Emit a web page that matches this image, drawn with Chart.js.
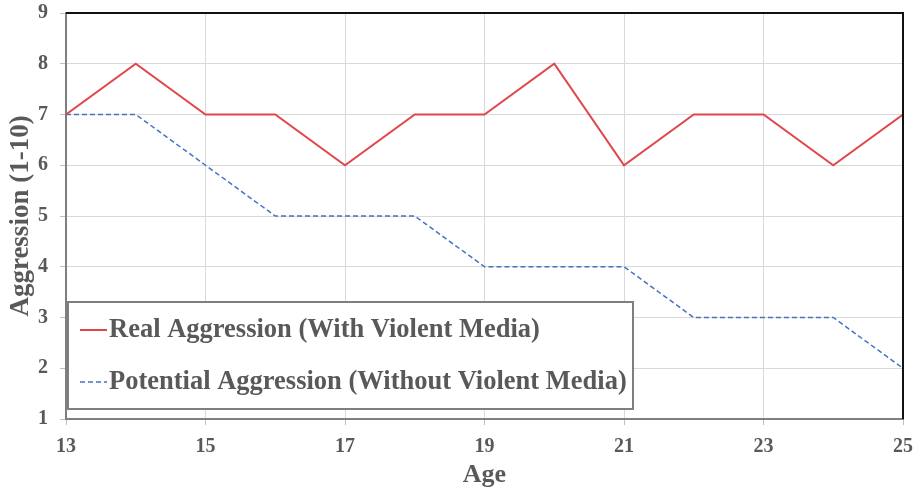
<!DOCTYPE html>
<html>
<head>
<meta charset="utf-8">
<script src="https://cdn.jsdelivr.net/npm/chart.js@4/dist/chart.umd.min.js"></script>
<style>
  html, body { margin: 0; padding: 0; background: #fff; }
  #wrap { width: 919px; height: 491px; position: relative; }
</style>
</head>
<body>
<div id="wrap"><canvas id="c" width="919" height="491"></canvas></div>
<script>
// Ages on the horizontal axis
const ages = [13, 14, 15, 16, 17, 18, 19, 20, 21, 22, 23, 24, 25];
// Aggression scores (1-10)
const realAggression = [7, 8, 7, 7, 6, 7, 7, 8, 6, 7, 7, 6, 7];
const potentialAggression = [7, 7, 6, 5, 5, 5, 4, 4, 4, 3, 3, 3, 2];
const seriesNames = ['Real Aggression (With Violent Media)', 'Potential Aggression (Without Violent Media)'];

const FONT = '"Liberation Serif", "Times New Roman", serif';
const TEXT = '#595959';
const RED = '#e0474c';
const BLUE = '#4472c4';

const toPoints = (vals) => ages.map((a, i) => ({ x: a, y: vals[i] }));

// Frame: gray left/bottom handled by axis borders, black top/right drawn here
const framePlugin = {
  id: 'frame',
  afterDatasetsDraw(chart) {
    const { ctx, chartArea: a } = chart;
    ctx.save();
    ctx.strokeStyle = '#111';
    ctx.lineWidth = 2;
    ctx.beginPath();
    ctx.moveTo(a.left, a.top);
    ctx.lineTo(a.right, a.top);
    ctx.lineTo(a.right, a.bottom);
    ctx.stroke();
    ctx.restore();
  }
};

// Boxed legend sitting inside the lower-left of the plot
const boxLegend = {
  id: 'boxLegend',
  afterDraw(chart) {
    const { ctx, chartArea: a } = chart;
    const x = a.left + 2, y = a.bottom - 117, w = 565, h = 107;
    ctx.save();
    ctx.fillStyle = '#fff';
    ctx.fillRect(x, y, w, h);
    ctx.strokeStyle = '#7f7f7f';
    ctx.lineWidth = 2;
    ctx.strokeRect(x, y, w, h);
    ctx.font = 'bold 26.5px ' + FONT;
    ctx.textBaseline = 'middle';
    ctx.fillStyle = TEXT;
    chart.data.datasets.forEach((ds, i) => {
      const cy = y + 28 + i * 52;
      ctx.strokeStyle = ds.borderColor;
      ctx.lineWidth = ds.borderWidth;
      ctx.setLineDash(ds.borderDash || []);
      ctx.beginPath();
      ctx.moveTo(x + 12, cy);
      ctx.lineTo(x + 39, cy);
      ctx.stroke();
      ctx.setLineDash([]);
      ctx.fillText(ds.label, x + 41, cy);
    });
    ctx.restore();
  }
};

new Chart(document.getElementById('c'), {
  type: 'line',
  data: {
    datasets: [
      {
        label: seriesNames[0],
        data: toPoints(realAggression),
        borderColor: RED,
        borderWidth: 2,
        pointRadius: 0,
        tension: 0
      },
      {
        label: seriesNames[1],
        data: toPoints(potentialAggression),
        borderColor: BLUE,
        borderWidth: 1.5,
        borderDash: [5, 3],
        pointRadius: 0,
        tension: 0
      }
    ]
  },
  options: {
    responsive: false,
    animation: false,
    layout: { padding: { top: 13, right: 16, left: 0, bottom: 0 } },
    plugins: {
      legend: { display: false },
      tooltip: { enabled: false }
    },
    scales: {
      x: {
        type: 'linear',
        min: 13,
        max: 25,
        ticks: { stepSize: 2, color: TEXT, font: { family: FONT, size: 20, weight: 'bold' }, padding: 10 },
        grid: { color: '#d9d9d9', tickColor: '#bfbfbf', tickLength: 6 },
        border: { color: '#7f7f7f', width: 2 },
        title: { display: true, text: 'Age', color: TEXT, font: { family: FONT, size: 26, weight: 'bold' }, padding: { top: 0, bottom: 0 } },
        afterFit(s) { s.height = 72; s.paddingLeft = 0; s.paddingRight = 0; }
      },
      y: {
        min: 1,
        max: 9,
        ticks: { stepSize: 1, color: TEXT, font: { family: FONT, size: 20, weight: 'bold' }, padding: 12 },
        grid: { color: '#d9d9d9', tickColor: '#bfbfbf', tickLength: 6 },
        border: { color: '#7f7f7f', width: 2 },
        title: { display: true, text: 'Aggression (1-10)', color: TEXT, font: { family: FONT, size: 27, weight: 'bold' }, padding: { top: 5, bottom: 0 } },
        afterFit(s) { s.width = 66; s.paddingTop = 0; s.paddingBottom = 0; }
      }
    }
  },
  plugins: [framePlugin, boxLegend]
});
</script>
</body>
</html>
